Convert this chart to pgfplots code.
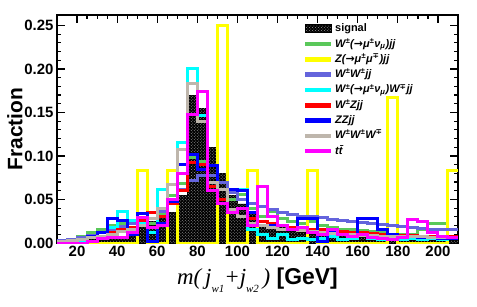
\documentclass[border=0pt]{standalone}
\usepackage{pgfplots}
\pgfplotsset{compat=1.18}
\usepackage{pgfplotstable}
\usetikzlibrary{patterns}
\usepackage{fontspec}
\setmainfont{Liberation Sans}
\newfontfamily\seriffont{Liberation Serif}
\newfontfamily\dv{DejaVu Sans}
\definecolor{cgreen}{RGB}{90,200,90}
\definecolor{cyel}{RGB}{255,255,0}
\definecolor{cslate}{RGB}{100,100,220}
\definecolor{ccyan}{RGB}{0,255,255}
\definecolor{cred}{RGB}{255,0,0}
\definecolor{cblue}{RGB}{0,0,255}
\definecolor{cgray}{RGB}{190,182,172}
\definecolor{cmag}{RGB}{255,0,255}
\newcommand{\lsub}[1]{\raisebox{-8bp}{\fontsize{11}{11}\selectfont #1}}
\pgfplotstableread{
x    sig    g      z      ws     cy     r      b      gr     m
10   0.001  0.002  0      0.003  0.001  0.001  0.002  0.002  0.0
15   0.002  0.004  0      0.004  0.002  0.002  0.003  0.003  0.0
20   0.003  0.008  0      0.006  0.003  0.004  0.004  0.004  0.0
25   0.004  0.012  0      0.009  0.006  0.006  0.008  0.006  0.002
30   0.005  0.016  0      0.012  0.012  0.008  0.012  0.008  0.005
35   0.006  0.020  0      0.016  0.018  0.012  0.028  0.010  0.006
40   0.008  0.022  0      0.019  0.036  0.015  0.026  0.013  0.006
45   0.012  0.026  0      0.022  0.026  0.018  0.010  0.016  0.012
50   0.020  0.028  0.0833 0.025  0.022  0.026  0.034  0.020  0.029
55   0.025  0.022  0      0.028  0.012  0.035  0.002  0.028  0.018
60   0.030  0.034  0      0.036  0.062  0.030  0.022  0.040  0.020
65   0.035  0.055  0.0833 0.048  0.045  0.045  0.048  0.067  0.050
70   0.055  0.068  0      0.062  0.116  0.060  0.090  0.108  0.080
75   0.170  0.098  0      0.072  0.200  0.093  0.102  0.183  0.148
80   0.155  0.094  0      0.078  0.146  0.090  0.085  0.140  0.174
85   0.110  0.060  0      0.078  0.070  0.065  0.089  0.070  0.060
90   0.080  0.045  0.25   0.070  0.050  0.050  0.045  0.061  0.045
95   0.055  0.050  0      0.058  0.061  0.035  0.061  0.038  0.035
100  0.045  0.056  0      0.050  0.061  0.030  0.060  0.030  0.040
105  0.035  0.040  0.0833 0.045  0.015  0.028  0.035  0.022  0.020
110  0.020  0.030  0      0.042  0.010  0.025  0.020  0.020  0.065
115  0.020  0.036  0      0.038  0.005  0.022  0.020  0.018  0.030
120  0.018  0.028  0      0.035  0.010  0.020  0.015  0.016  0.020
125  0.015  0.025  0      0.033  0.004  0.018  0.015  0.015  0.015
130  0.012  0.022  0      0.031  0.005  0.016  0.028  0.014  0.018
135  0.010  0.025  0.0833 0.030  0.004  0.015  0.028  0.013  0.012
140  0.012  0.020  0      0.029  0.005  0.016  0.002  0.012  0.010
145  0.010  0.018  0      0.027  0.008  0.014  0.012  0.011  0.015
150  0.010  0.016  0      0.026  0.004  0.013  0.010  0.010  0.010
155  0.010  0.015  0      0.025  0.005  0.012  0.008  0.010  0.008
160  0.008  0.014  0      0.024  0.010  0.012  0.028  0.009  0.010
165  0.006  0.013  0      0.022  0.005  0.011  0.028  0.009  0.006
170  0.006  0.012  0      0.021  0.004  0.010  0.015  0.008  0.005
175  0.005  0.008  0.1667 0.020  0.005  0.010  0.010  0.008  0.004
180  0.005  0.010  0      0.019  0.004  0.009  0.008  0.007  0.006
185  0.005  0.010  0      0.018  0.005  0.009  0.007  0.007  0.027
190  0.004  0.015  0      0.017  0.004  0.008  0.006  0.007  0.025
195  0.004  0.022  0      0.016  0.005  0.008  0.006  0.006  0.012
200  0.004  0.022  0      0.016  0.004  0.007  0.005  0.006  0.008
205  0.004  0.015  0.0833 0.015  0.006  0.007  0.005  0.006  0.006
210  0.004  0.015  0.0833 0.015  0.006  0.007  0.005  0.006  0.006
}\data
\begin{document}
\begin{tikzpicture}
\useasboundingbox (-57bp,-64bp) rectangle (420bp,243bp);
\begin{axis}[
  at={(0,0)}, anchor=south west,
  scale only axis, width=401bp, height=228bp,
  xmin=10, xmax=210, ymin=0, ymax=0.262,
  xtick={20,40,...,200}, minor x tick num=3,
  ytick={0,0.05,0.1,0.15,0.2,0.25}, minor y tick num=4,
  tick align=inside, xtick pos=both, ytick pos=both,
  major tick length=8bp, minor tick length=4bp,
  tick style={black, line width=1.2bp},
  axis line style={line width=1.6bp},
  /pgf/number format/assume math mode=true,
  ticklabel style={font=\fontsize{15}{15}\selectfont\bfseries},
  yticklabel style={/pgf/number format/.cd, fixed, fixed zerofill, precision=2},
  ylabel={\fontsize{21}{21}\selectfont\bfseries Fraction},
  every axis y label/.style={at={(axis description cs:-0.105,0.5)}, rotate=90, anchor=center},
  xlabel={\fontsize{23}{23}\selectfont{\seriffont\itshape m(\,j\lsub{w1}+j\lsub{w2}\,)} \bfseries[GeV]},
  every axis x label/.style={at={(axis description cs:0.5,-0.165)}, anchor=center},
  legend cell align=left,
  legend image code/.code={\draw[line width=4.5bp] (0bp,0bp) -- (26bp,0bp);},
  legend style={at={(rel axis cs:0.606,0.982)}, anchor=north west, draw=none, fill=none,
    font=\fontsize{11}{12}\selectfont\bfseries\itshape, row sep=0.3bp,
    nodes={inner sep=1.5bp, text height=9bp, text depth=3bp}},
  every axis plot/.append style={const plot, line width=3bp},
]
\addplot[fill=black, draw=black, line width=0.6bp,
  legend image code/.code={\fill[black] (0bp,-4bp) rectangle (26bp,4bp);
    \fill[pattern=crosshatch dots, pattern color=gray!80] (0bp,-4bp) rectangle (26bp,4bp);}]
  table[x=x,y=sig]{\data} \closedcycle;
\addlegendentry{\upshape signal}
\addplot[forget plot, draw=none, pattern=crosshatch dots, pattern color=gray!75]
  table[x=x,y=sig]{\data} \closedcycle;
\addplot[cgreen] table[x=x,y=g]{\data};
\addlegendentry{W\textsuperscript{±}({\dv →}μ\textsuperscript{±}ν\textsubscript{μ})jj}
\addplot[cyel] table[x=x,y=z]{\data};
\addlegendentry{Z({\dv →}μ\textsuperscript{±}μ\textsuperscript{\dv ∓})jj}
\addplot[cslate] table[x=x,y=ws]{\data};
\addlegendentry{W\textsuperscript{±}W\textsuperscript{±}jj}
\addplot[ccyan] table[x=x,y=cy]{\data};
\addlegendentry{W\textsuperscript{±}({\dv →}μ\textsuperscript{±}ν\textsubscript{μ})W\textsuperscript{\dv ∓}jj}
\addplot[cred] table[x=x,y=r]{\data};
\addlegendentry{W\textsuperscript{±}Zjj}
\addplot[cblue] table[x=x,y=b]{\data};
\addlegendentry{ZZjj}
\addplot[cgray] table[x=x,y=gr]{\data};
\addlegendentry{W\textsuperscript{±}W\textsuperscript{±}W\textsuperscript{\dv ∓}}
\addplot[cmag] table[x=x,y=m]{\data};
\addlegendentry{t\={t}}
\end{axis}
\end{tikzpicture}
\end{document}
